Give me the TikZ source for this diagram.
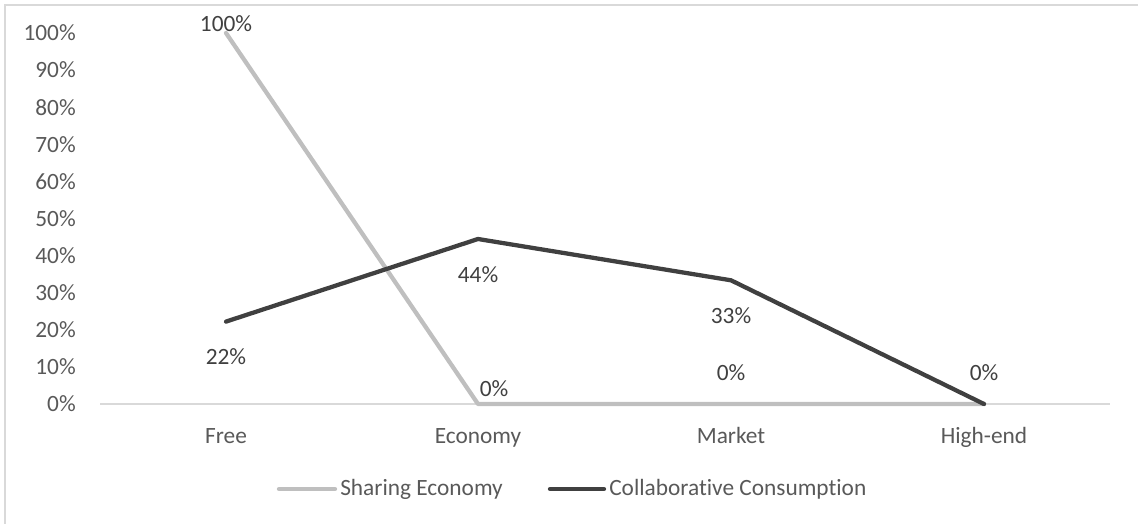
\documentclass[tikz,border=0pt]{standalone}
\usepackage{fontspec}
\setmainfont{Carlito}[Ligatures=NoCommon]
\definecolor{axisgrey}{HTML}{595959}
\definecolor{sharegrey}{HTML}{BFBFBF}
\definecolor{collabgrey}{HTML}{404040}
\definecolor{framegrey}{HTML}{D9D9D9}

\begin{document}
\begin{tikzpicture}[x=0.75pt, y=-0.75pt, font=\fontsize{17.5}{20}\selectfont,
  tick/.style={anchor=east, text=axisgrey, inner sep=0pt},
  cat/.style={anchor=base, text=axisgrey, inner sep=0pt},
  val/.style={text=collabgrey, inner sep=0pt},
  share/.style={line width=3.2pt, sharegrey, line join=round, line cap=round},
  collab/.style={line width=3.2pt, collabgrey, line join=round, line cap=round}]
\useasboundingbox (0,0) rectangle (1138,524);

% Frame
\draw[framegrey, line width=1.3pt] (5,524) -- (5,5) -- (1138,5);

% Axis
\coordinate (axl) at (100,404);
\coordinate (axr) at (1110,404);
\draw[framegrey, line width=1.1pt] (axl) -- (axr);

% Tick labels
\node[tick] (t100) at (76,33) {100\%};
\node[tick] (t90) at (76,70.1) {90\%};
\node[tick] (t80) at (76,107.2) {80\%};
\node[tick] (t70) at (76,144.3) {70\%};
\node[tick] (t60) at (76,181.4) {60\%};
\node[tick] (t50) at (76,218.5) {50\%};
\node[tick] (t40) at (76,255.6) {40\%};
\node[tick] (t30) at (76,292.7) {30\%};
\node[tick] (t20) at (76,329.8) {20\%};
\node[tick] (t10) at (76,366.9) {10\%};
\node[tick] (t0) at (76,404) {0\%};

% Categories
\node[cat] (free) at (226,443) {Free};
\node[cat] (economy) at (478,443) {Economy};
\node[cat] (market) at (731,443) {Market};
\node[cat] (highend) at (984,443) {High-end};

% Sharing Economy data
\coordinate (se1) at (226,33);
\coordinate (se2) at (478,404);
\coordinate (se3) at (731,404);
\coordinate (se4) at (984,404);

% Collaborative Consumption data
\coordinate (cc1) at (226,321.6);
\coordinate (cc2) at (478,239);
\coordinate (cc3) at (731,280.3);
\coordinate (cc4) at (984,404);

% Lines
\draw[share] (se1) -- (se2) -- (se3) -- (se4);
\draw[collab] (cc1) -- (cc2) -- (cc3) -- (cc4);

% Data labels
\node[val] (se1lab) at (226,24) {100\%};
\node[val] (se2lab) at (494,389) {0\%};
\node[val] (se3lab) at (731,373) {0\%};
\node[val] (se4lab) at (984,373) {0\%};
\node[val] (cc1lab) at (226,357) {22\%};
\node[val] (cc2lab) at (478,275) {44\%};
\node[val] (cc3lab) at (731,316) {33\%};

% Legend
\coordinate (lgsa) at (279,489);
\coordinate (lgsb) at (335,489);
\draw[share] (lgsa) -- (lgsb);
\node[anchor=base west, text=axisgrey, inner sep=0pt] (lgs) at (340,495) {Sharing Economy};
\coordinate (lgca) at (550,489);
\coordinate (lgcb) at (604,489);
\draw[collab] (lgca) -- (lgcb);
\node[anchor=base west, text=axisgrey, inner sep=0pt] (lgc) at (609,495) {Collaborative Consumption};

\end{tikzpicture}
\end{document}
